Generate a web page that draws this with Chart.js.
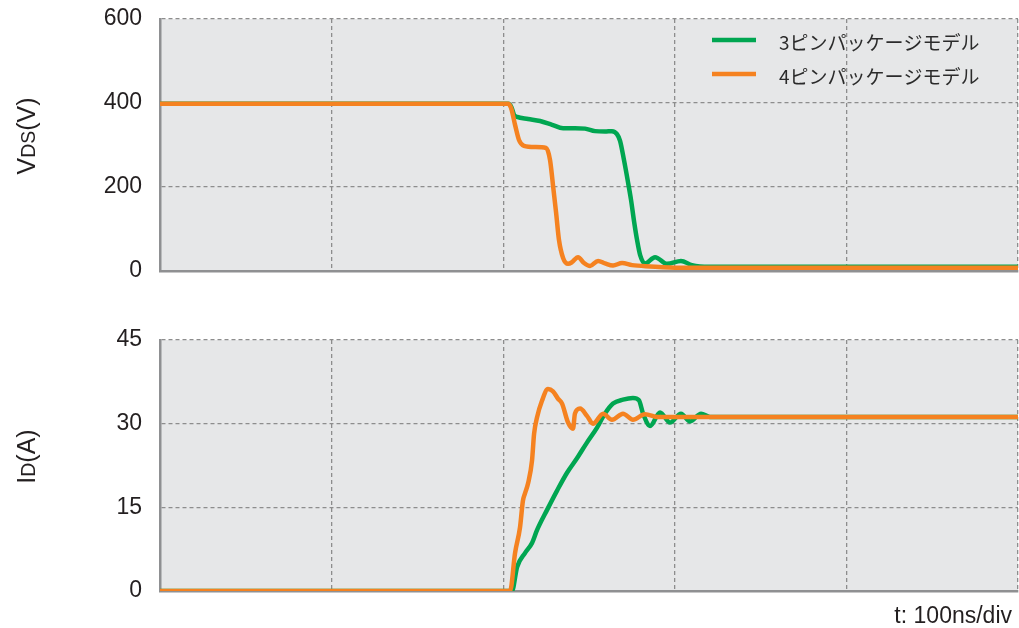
<!DOCTYPE html>
<html>
<head>
<meta charset="utf-8">
<script src="https://cdn.jsdelivr.net/npm/chart.js@4.4.1/dist/chart.umd.min.js"></script>
<style>
  html, body { margin: 0; padding: 0; background: #ffffff; width: 1019px; height: 628px; overflow: hidden; position: relative; }
  canvas { position: absolute; left: 0; display: block; }
  #vdsChart { top: -20px; }
  #idChart { top: 300px; }
</style>
</head>
<body>
<canvas id="vdsChart" width="1019" height="328"></canvas>
<canvas id="idChart" width="1019" height="328"></canvas>
<script>
// Series names
const seriesNames = ['3ピンパッケージモデル', '4ピンパッケージモデル'];

// Time axis: 0..500 ns, 100 ns per division
const timeMin = 0, timeMax = 500, timeDiv = 100;

// Drain-source voltage, 3-pin package (time in ns, voltage in V)
const vdsTime3 = [0, 203, 204.8, 206.3, 208.1, 214.5, 221.5, 228.5, 234.9, 241.9, 247.7, 253.5, 259.3, 263.4, 266.3, 268.1, 270.4, 272.8, 274.5, 276.3, 278.0, 279.8, 282.6, 288.5, 295.5, 303.6, 310.0, 320, 500];
const vdsValue3 = [398, 398, 390, 372, 367, 362, 357, 348, 340, 340, 339, 333, 332, 333, 326, 310, 264, 210, 169, 117, 74, 38, 18, 33, 17, 24, 14, 10, 10];

// Drain-source voltage, 4-pin package
const vdsTime4 = [0, 202.8, 204.6, 206.9, 209.2, 212.1, 218.6, 225.0, 227.3, 229.0, 230.8, 232.5, 234.9, 237.8, 240.1, 243.6, 247.1, 250.6, 255.3, 259.3, 264.0, 269.3, 275.1, 285.6, 303, 500];
const vdsValue4 = [398, 398, 388, 348, 312, 298, 295, 293, 264, 205, 140, 74, 31, 17, 21, 33, 19, 12, 24, 18, 13, 19, 14, 11, 8, 8];

// Drain current, 3-pin package (time in ns, current in A)
const idTime3 = [0, 205.1, 208.1, 212.7, 216.8, 219.7, 225.5, 231.4, 237.2, 243.0, 248.8, 254.7, 259.3, 264.0, 269.8, 275.6, 279.1, 281.5, 285.6, 291.4, 297.2, 303.6, 308.9, 315.3, 320.5, 500];
const idValue3 = [0, 0, 4.3, 6.8, 8.6, 10.9, 14.5, 18.0, 21.2, 23.8, 26.6, 29.3, 31.8, 33.6, 34.3, 34.6, 34.2, 31.8, 29.6, 32.0, 30.2, 31.8, 30.4, 31.8, 31.2, 31.2];

// Drain current, 4-pin package
const idTime4 = [0, 204.0, 206.9, 209.8, 211.5, 212.7, 214.5, 216.8, 218.0, 219.7, 222.6, 226.1, 229.0, 231.9, 234.3, 237.8, 240.7, 241.8, 244.8, 248.8, 252.3, 258.2, 263.4, 269.8, 275.6, 282.6, 290.2, 500];
const idValue4 = [0, 0, 6.8, 11.4, 16.2, 17.5, 19.3, 23.4, 28.2, 31.1, 34.1, 36.2, 35.8, 34.5, 33.6, 30.2, 29.1, 31.8, 32.7, 31.4, 30.0, 31.8, 30.7, 31.8, 30.7, 31.7, 31.2, 31.2];

// Y axis ranges and tick steps
const vdsMax = 600, vdsStep = 200;
const idMax = 45, idStep = 15;

const GREEN = '#00a651';
const ORANGE = '#f58220';
const TEXT = '#231f20';
const GRID = '#8d8d8d';
const AXIS = '#8f9092';
const PLOT_BG = '#e6e7e8';
const LATIN = '"Liberation Sans", Arial, sans-serif';
const CJK = '"Noto Sans CJK JP", "Noto Sans", sans-serif';

function toPoints(ts, vs) {
  return ts.map((t, i) => ({ x: t, y: vs[i] }));
}

function lineDataset(label, ts, vs, color, order) {
  return {
    label: label,
    data: toPoints(ts, vs),
    borderColor: color,
    backgroundColor: color,
    borderWidth: 4.5,
    pointRadius: 0,
    cubicInterpolationMode: 'monotone',
    order: order
  };
}

// Grey fill behind the plotting area
const plotBackground = {
  id: 'plotBackground',
  beforeDraw(chart) {
    const { ctx, chartArea: a } = chart;
    ctx.save();
    ctx.fillStyle = PLOT_BG;
    ctx.fillRect(a.left, a.top, a.right - a.left, a.bottom - a.top);
    ctx.restore();
  }
};

// Rotated axis title with a subscript part, e.g. V_DS(V)
function drawRotatedTitle(ctx, baseX, centerY, parts) {
  ctx.save();
  ctx.fillStyle = TEXT;
  ctx.textBaseline = 'alphabetic';
  ctx.textAlign = 'left';
  let total = 0;
  parts.forEach(p => {
    ctx.font = p.size + 'px ' + LATIN;
    p.w = ctx.measureText(p.text).width;
    total += p.w;
  });
  ctx.translate(baseX, centerY);
  ctx.rotate(-Math.PI / 2);
  let x = -total / 2;
  parts.forEach(p => {
    ctx.font = p.size + 'px ' + LATIN;
    ctx.fillText(p.text, x, 0);
    x += p.w;
  });
  ctx.restore();
}

function axisTitle(parts) {
  return {
    id: 'axisTitle',
    afterDraw(chart) {
      const a = chart.chartArea;
      drawRotatedTitle(chart.ctx, 35, (a.top + a.bottom) / 2 - 9, parts);
    }
  };
}

// Legend drawn inside the upper right of the voltage plot
const insideLegend = {
  id: 'insideLegend',
  afterDraw(chart) {
    const { ctx, chartArea: a } = chart;
    const rows = [
      { label: seriesNames[0], color: GREEN, y: a.top + 21 },
      { label: seriesNames[1], color: ORANGE, y: a.top + 55 }
    ];
    ctx.save();
    rows.forEach(r => {
      ctx.strokeStyle = r.color;
      ctx.lineWidth = 4.5;
      ctx.beginPath();
      ctx.moveTo(712, r.y);
      ctx.lineTo(756, r.y);
      ctx.stroke();
      ctx.fillStyle = '#2b2b2b';
      ctx.font = '19px ' + CJK;
      ctx.textBaseline = 'middle';
      ctx.textAlign = 'left';
      ctx.fillText(r.label, 779, r.y + 3);
    });
    ctx.restore();
  }
};

// Time-base note under the current plot
const timeNote = {
  id: 'timeNote',
  afterDraw(chart) {
    const { ctx, chartArea: a } = chart;
    ctx.save();
    ctx.fillStyle = TEXT;
    ctx.font = '23px ' + LATIN;
    ctx.textAlign = 'right';
    ctx.textBaseline = 'middle';
    ctx.fillText('t: ' + timeDiv + 'ns/div', 1012, a.bottom + 26);
    ctx.restore();
  }
};

function makeOptions(yMax, yStep, padTop, padBottom) {
  return {
    responsive: false,
    animation: false,
    devicePixelRatio: 1,
    layout: { padding: { left: 0, right: 1, top: padTop, bottom: padBottom } },
    plugins: { legend: { display: false }, tooltip: { enabled: false } },
    scales: {
      x: {
        type: 'linear',
        min: timeMin,
        max: timeMax,
        ticks: { display: false, stepSize: timeDiv },
        grid: { color: GRID, lineWidth: 1.3, drawTicks: false },
        border: { display: true, color: AXIS, width: 2.5, dash: [4, 3] },
        afterFit(scale) { scale.height = 0; }
      },
      y: {
        min: 0,
        max: yMax,
        ticks: {
          stepSize: yStep,
          padding: 18,
          color: TEXT,
          font: { family: LATIN, size: 23 }
        },
        grid: { color: GRID, lineWidth: 1.3, drawTicks: false },
        border: { display: true, color: AXIS, width: 2.5, dash: [4, 3] },
        afterFit(scale) { scale.width = 160; }
      }
    }
  };
}

new Chart(document.getElementById('vdsChart'), {
  type: 'line',
  data: {
    datasets: [
      lineDataset(seriesNames[0], vdsTime3, vdsValue3, GREEN, 2),
      lineDataset(seriesNames[1], vdsTime4, vdsValue4, ORANGE, 1)
    ]
  },
  options: makeOptions(vdsMax, vdsStep, 39, 37),
  plugins: [plotBackground, insideLegend, axisTitle([
    { text: 'V', size: 25 }, { text: 'DS', size: 19.5 }, { text: '(V)', size: 25 }
  ])]
});

new Chart(document.getElementById('idChart'), {
  type: 'line',
  data: {
    datasets: [
      lineDataset(seriesNames[0], idTime3, idValue3, GREEN, 2),
      lineDataset(seriesNames[1], idTime4, idValue4, ORANGE, 1)
    ]
  },
  options: makeOptions(idMax, idStep, 40, 37),
  plugins: [plotBackground, timeNote, axisTitle([
    { text: 'I', size: 25 }, { text: 'D', size: 19.5 }, { text: '(A)', size: 25 }
  ])]
});
</script>
</body>
</html>
